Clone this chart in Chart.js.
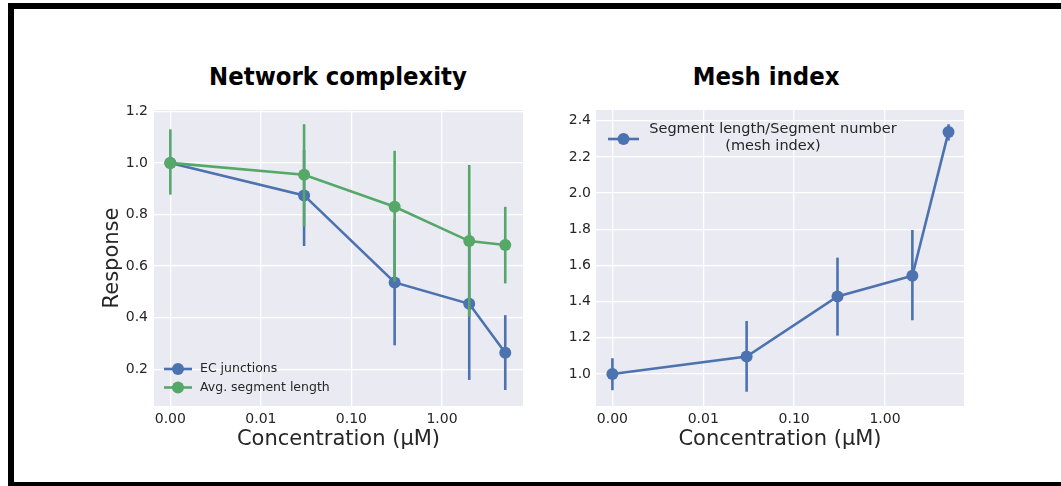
<!DOCTYPE html>
<html>
<head>
<meta charset="utf-8">
<script src="https://cdn.jsdelivr.net/npm/chart.js@4"></script>
<style>
  body { margin: 0; background: #fff; width: 1061px; height: 486px; overflow: hidden; position: relative; font-family: "DejaVu Sans", sans-serif; }
  #frame { position: absolute; left: 8px; top: 3px; width: 1100px; height: 485px; border: 6px solid #000; box-sizing: border-box; }
  .title { position: absolute; top: 61px; width: 400px; text-align: center; font-family: "DejaVu Sans Condensed", "DejaVu Sans", sans-serif; font-stretch: condensed; font-weight: bold; font-size: 25.4px; line-height: 30px; color: #000; }
  canvas { position: absolute; }
</style>
</head>
<body>
<div id="frame"></div>
<div class="title" style="left:138px">Network complexity</div>
<div class="title" style="left:566px">Mesh index</div>
<canvas id="left" width="440" height="360" style="left:95px;top:100px"></canvas>
<canvas id="right" width="440" height="360" style="left:540px;top:100px"></canvas>
<script>
// concentrations (uM) on a log axis; the control sits at 0.001 and shows as "0.00"
const concentrations = [0.001, 0.03, 0.3, 2, 5];
const xTickValues = [0.001, 0.01, 0.1, 1];

// network complexity
const ecJunctions = [1.0, 0.874, 0.537, 0.454, 0.264];
const ecJunctionsLow = [1.0, 0.678, 0.293, 0.159, 0.12];
const ecJunctionsHigh = [1.0, 1.05, 0.78, 0.73, 0.41];
const segLength = [1.0, 0.954, 0.83, 0.697, 0.682];
const segLengthLow = [0.877, 0.755, 0.54, 0.404, 0.533];
const segLengthHigh = [1.13, 1.15, 1.047, 0.992, 0.83];
const leftYTicks = [0.2, 0.4, 0.6, 0.8, 1.0, 1.2];

// mesh index
const meshIndex = [1.0, 1.096, 1.428, 1.543, 2.338];
const meshIndexLow = [0.91, 0.902, 1.212, 1.297, 2.29];
const meshIndexHigh = [1.087, 1.293, 1.643, 1.796, 2.38];
const rightYTicks = [1.0, 1.2, 1.4, 1.6, 1.8, 2.0, 2.2, 2.4];

const BLUE = "#4C72B0";
const GREEN = "#55A868";
const TEXT = "#262626";

Chart.defaults.font.family = "DejaVu Sans";
Chart.defaults.color = TEXT;

function points(ys) {
  return concentrations.map((x, i) => ({ x: x, y: ys[i] }));
}

function series(label, color, ys, low, high, order) {
  return {
    label: label,
    data: points(ys),
    low: low,
    high: high,
    order: order,
    borderColor: color,
    backgroundColor: color,
    pointBackgroundColor: color,
    borderWidth: 2.6,
    pointRadius: 6,
    pointBorderWidth: 0,
    tension: 0,
    fill: false,
  };
}

// plot background
const bgPlugin = {
  id: "bg",
  beforeDraw(chart) {
    const a = chart.chartArea;
    const ctx = chart.ctx;
    ctx.save();
    ctx.fillStyle = "#EAEAF2";
    ctx.fillRect(a.left, a.top, a.right - a.left, a.bottom - a.top);
    ctx.restore();
  },
};

// vertical error bars, drawn under each dataset's own line
const errorBars = {
  id: "errorBars",
  beforeDatasetDraw(chart, args) {
    const ds = chart.data.datasets[args.index];
    const xs = chart.scales.x;
    const ys = chart.scales.y;
    const ctx = chart.ctx;
    ctx.save();
    ctx.strokeStyle = ds.borderColor;
    ctx.lineWidth = 2.6;
    ds.data.forEach((p, i) => {
      const px = xs.getPixelForValue(p.x);
      ctx.beginPath();
      ctx.moveTo(px, ys.getPixelForValue(ds.low[i]));
      ctx.lineTo(px, ys.getPixelForValue(ds.high[i]));
      ctx.stroke();
    });
    ctx.restore();
  },
};

function legendHandle(ctx, x0, x1, y, color) {
  ctx.strokeStyle = color;
  ctx.fillStyle = color;
  ctx.lineWidth = 2.6;
  ctx.beginPath();
  ctx.moveTo(x0, y);
  ctx.lineTo(x1, y);
  ctx.stroke();
  ctx.beginPath();
  ctx.arc((x0 + x1) / 2, y, 6, 0, Math.PI * 2);
  ctx.fill();
}

function xScale(max) {
  return {
    type: "logarithmic",
    min: 0.00066,
    max: max,
    afterBuildTicks: (s) => { s.ticks = xTickValues.map((v) => ({ value: v })); },
    afterFit: (s) => {
      s.height = 54;
      s.paddingLeft = 0;
      s.paddingRight = 0;
    },
    grid: { color: "#fff", lineWidth: 1.3, drawTicks: false },
    border: { display: false },
    ticks: {
      padding: 5,
      color: TEXT,
      autoSkip: false,
      maxRotation: 0,
      font: { size: 14 },
      callback: (v) => Number(v).toFixed(2),
    },
    title: {
      display: true,
      text: "Concentration (μM)",
      color: TEXT,
      font: { size: 21 },
      padding: { top: 0, bottom: 8 },
    },
  };
}

function yScale(min, max, tickValues, width, pad) {
  return {
    type: "linear",
    min: min,
    max: max,
    afterBuildTicks: (s) => { s.ticks = tickValues.map((v) => ({ value: v })); },
    afterFit: (s) => {
      s.width = width;
      // keep the plot box where the layout padding puts it
      s.paddingTop = 0;
      s.paddingBottom = 0;
    },
    grid: { color: "#fff", lineWidth: 1.3, drawTicks: false },
    border: { display: false },
    ticks: {
      padding: pad,
      color: TEXT,
      font: { size: 14 },
      callback: (v) => Number(v).toFixed(1),
    },
  };
}

//left chart
const leftY = yScale(0.058, 1.205, leftYTicks, 59, 6);
leftY.title = {
  display: true,
  text: "Response",
  color: TEXT,
  font: { size: 21 },
  padding: { top: 5, bottom: 0 },
};

const leftChart = new Chart(document.getElementById("left"), {
  type: "line",
  data: {
    datasets: [
      series("EC junctions", BLUE, ecJunctions, ecJunctionsLow, ecJunctionsHigh, 2),
      series("Avg. segment length", GREEN, segLength, segLengthLow, segLengthHigh, 1),
    ],
  },
  options: {
    responsive: false,
    animation: false,
    events: [],
    layout: { padding: { left: 0, top: 10, right: 12, bottom: 0 } },
    scales: { x: xScale(7.85), y: leftY },
    plugins: { legend: { display: false }, tooltip: { enabled: false } },
  },
  plugins: [
    bgPlugin,
    errorBars,
    {
      id: "leftLegend",
      afterDraw(chart) {
        const a = chart.chartArea;
        const ctx = chart.ctx;
        ctx.save();
        ctx.font = '12.5px "DejaVu Sans"';
        ctx.textBaseline = "middle";
        chart.data.datasets.forEach((ds, i) => {
          const y = a.bottom - 37 + i * 18.5;
          legendHandle(ctx, a.left + 10, a.left + 38, y, ds.borderColor);
          ctx.fillStyle = TEXT;
          ctx.fillText(ds.label, a.left + 46, y);
        });
        ctx.restore();
      },
    },
  ],
});

//right chart
const rightChart = new Chart(document.getElementById("right"), {
  type: "line",
  data: {
    datasets: [
      series("Segment length/Segment number\n(mesh index)", BLUE, meshIndex, meshIndexLow, meshIndexHigh, 1),
    ],
  },
  options: {
    responsive: false,
    animation: false,
    events: [],
    layout: { padding: { left: 0, top: 10, right: 16, bottom: 0 } },
    scales: { x: xScale(7.4), y: yScale(0.823, 2.459, rightYTicks, 56, 5) },
    plugins: { legend: { display: false }, tooltip: { enabled: false } },
  },
  plugins: [
    bgPlugin,
    errorBars,
    {
      id: "rightLegend",
      afterDraw(chart) {
        const a = chart.chartArea;
        const ctx = chart.ctx;
        const ds = chart.data.datasets[0];
        ctx.save();
        legendHandle(ctx, a.left + 12, a.left + 43, a.top + 29, ds.borderColor);
        ctx.font = '14.5px "DejaVu Sans"';
        ctx.textBaseline = "middle";
        ctx.textAlign = "center";
        ctx.fillStyle = TEXT;
        ds.label.split("\n").forEach((line, i) => {
          ctx.fillText(line, a.left + 177, a.top + 19 + i * 17.7);
        });
        ctx.restore();
      },
    },
  ],
});
</script>
</body>
</html>
